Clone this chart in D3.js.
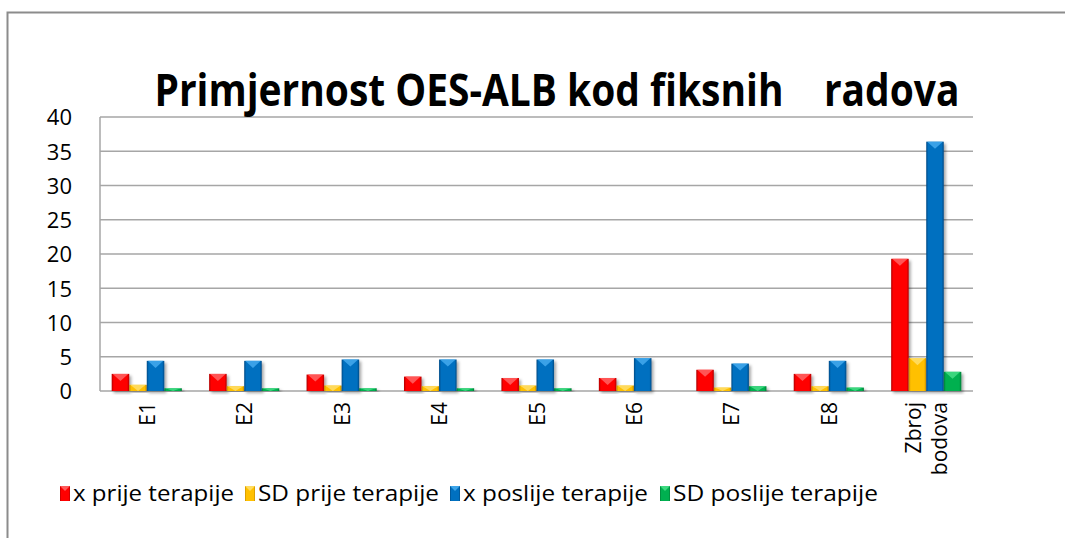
<!DOCTYPE html>
<html lang="hr">
<head>
<meta charset="UTF-8">
<title>Primjernost OES-ALB kod fiksnih radova</title>
<style>
    body { margin: 0; background: #fff; }
    svg text { font-family: "Open Sans", "Liberation Sans", sans-serif; fill: #000; }
</style>
</head>
<body>
<div id="chart"></div>
<script src="https://cdn.jsdelivr.net/npm/d3@7"></script>
<script>
    const categories = ["E1", "E2", "E3", "E4", "E5", "E6", "E7", "E8", "Zbroj bodova"];
    const seriesNames = ["x prije terapije", "SD prije terapije", "x poslije terapije", "SD poslije terapije"];
    const xPrije = [2.5, 2.5, 2.4, 2.1, 1.9, 1.9, 3.1, 2.5, 19.3];
    const sdPrije = [0.9, 0.7, 0.8, 0.7, 0.8, 0.8, 0.5, 0.7, 4.8];
    const xPoslije = [4.4, 4.4, 4.6, 4.6, 4.6, 4.8, 4.0, 4.4, 36.4];
    const sdPoslije = [0.4, 0.4, 0.4, 0.4, 0.4, 0, 0.7, 0.5, 2.8];
    const yTicks = [0, 5, 10, 15, 20, 25, 30, 35, 40];

    const colors = [
        { base: "#ff0000", dark: "#b00000", light: "#ff6a6a" },
        { base: "#ffc000", dark: "#c48a00", light: "#ffe070" },
        { base: "#0070c0", dark: "#004a85", light: "#48aef0" },
        { base: "#00b050", dark: "#007a35", light: "#48e088" }
    ];
    const allSeries = [xPrije, sdPrije, xPoslije, sdPoslije];

    const W = 1065, H = 538;
    const plot = { left: 100, right: 973, top: 117, bottom: 391 };

    const svg = d3.select("#chart").append("svg")
        .attr("width", W).attr("height", H);

    const defs = svg.append("defs");
    defs.append("filter").attr("id", "shadow")
        .attr("x", "-30%").attr("y", "-10%").attr("width", "180%").attr("height", "130%")
        .append("feDropShadow")
        .attr("dx", 2).attr("dy", 2).attr("stdDeviation", 1.6)
        .attr("flood-color", "#000").attr("flood-opacity", 0.35);

    colors.forEach((c, i) => {
        const g = defs.append("linearGradient").attr("id", "grad" + i)
            .attr("x1", "0%").attr("x2", "100%").attr("y1", "0%").attr("y2", "0%");
        g.append("stop").attr("offset", "0%").attr("stop-color", c.dark);
        g.append("stop").attr("offset", "12%").attr("stop-color", c.base);
        g.append("stop").attr("offset", "88%").attr("stop-color", c.base);
        g.append("stop").attr("offset", "100%").attr("stop-color", c.dark);
    });

    // outer chart frame (only left and top edges are in view)
    svg.append("rect")
        .attr("x", 7.5).attr("y", 12.5).attr("width", 1100).attr("height", 600)
        .attr("fill", "none").attr("stroke", "#8c8c8c").attr("stroke-width", 2);

    const x0 = d3.scaleBand().domain(categories)
        .range([plot.left, plot.right]).paddingInner(0.28).paddingOuter(0.12);
    const x1 = d3.scaleBand().domain(d3.range(4)).range([0, x0.bandwidth()]);
    const y = d3.scaleLinear().domain([0, 40]).range([plot.bottom, plot.top]);

    // gridlines
    svg.append("g")
        .selectAll("line").data(yTicks).join("line")
        .attr("x1", plot.left).attr("x2", plot.right)
        .attr("y1", d => y(d)).attr("y2", d => y(d))
        .attr("stroke", "#a6a6a6").attr("stroke-width", 1.5);

    svg.append("line")
        .attr("x1", plot.left).attr("x2", plot.left)
        .attr("y1", plot.top).attr("y2", plot.bottom)
        .attr("stroke", "#a6a6a6").attr("stroke-width", 1.5);

    // y axis
    const yAxis = svg.append("g")
        .attr("transform", `translate(${plot.left},0)`)
        .call(d3.axisLeft(y).tickValues(yTicks).tickSize(0).tickPadding(28));
    yAxis.select(".domain").remove();
    yAxis.selectAll("text")
        .style("font-size", "22px")
        .style("font-family", "'Open Sans', sans-serif")
        .attr("dy", "0.36em")
        .attr("fill", "#000");

    // bars
    const groups = svg.append("g").selectAll("g").data(categories).join("g")
        .attr("transform", d => `translate(${x0(d)},0)`);

    const drawBar = (sel) => {
        sel.each(function(d) {
            const g = d3.select(this);
            const bx = x1(d.s), bw = x1.bandwidth();
            const top = y(d.v), h = plot.bottom - top;
            if (d.v <= 0) return;
            const c = colors[d.s];
            g.append("rect")
                .attr("x", bx).attr("y", top).attr("width", bw).attr("height", h)
                .attr("fill", `url(#grad${d.s})`)
                .attr("filter", "url(#shadow)");
            // bevel chevron on top
            const th = Math.min(h, bw * 0.4);
            g.append("path")
                .attr("d", `M${bx + 1},${top} L${bx + bw - 1},${top} L${bx + bw / 2},${top + th} Z`)
                .attr("fill", c.light).attr("opacity", 0.8);
        });
    };

    groups.selectAll("g.bar")
        .data((d, i) => allSeries.map((arr, s) => ({ s, v: arr[i] })))
        .join("g").attr("class", "bar")
        .call(drawBar);

    // x labels rotated
    const xl = svg.append("g");
    categories.forEach(cat => {
        const cx = x0(cat) + x0.bandwidth() / 2;
        const lines = cat.split(" ");
        lines.forEach((ln, j) => {
            const lx = cx + 8 + (j - (lines.length - 1) / 2) * 26;
            xl.append("text")
                .attr("transform", `translate(${lx},${plot.bottom + 11}) rotate(-90)`)
                .attr("text-anchor", "end")
                .style("font-size", "21px")
                .text(ln);
        });
    });

    // title
    svg.append("text")
        .attr("x", 557).attr("y", 106)
        .attr("text-anchor", "middle")
        .attr("textLength", 805).attr("lengthAdjust", "spacingAndGlyphs")
        .style("font-size", "44px").style("font-weight", "bold")
        .style("white-space", "pre")
        .text("Primjernost OES-ALB kod fiksnih    radova");

    // legend
    const legendX = [60, 245, 450, 660];
    const legendW = [161, 181, 185, 205];
    const legend = svg.append("g").selectAll("g").data(seriesNames).join("g")
        .attr("transform", (d, i) => `translate(${legendX[i]},486)`);
    legend.append("rect")
        .attr("width", 10).attr("height", 15)
        .attr("fill", (d, i) => `url(#grad${i})`);
    legend.append("path")
        .attr("d", "M0,0 L10,0 L5,5 Z")
        .attr("fill", (d, i) => colors[i].light).attr("opacity", 0.85);
    legend.append("text")
        .attr("x", 13).attr("y", 15)
        .attr("textLength", (d, i) => legendW[i]).attr("lengthAdjust", "spacingAndGlyphs")
        .style("font-size", "21px")
        .text(d => d);
</script>
</body>
</html>
